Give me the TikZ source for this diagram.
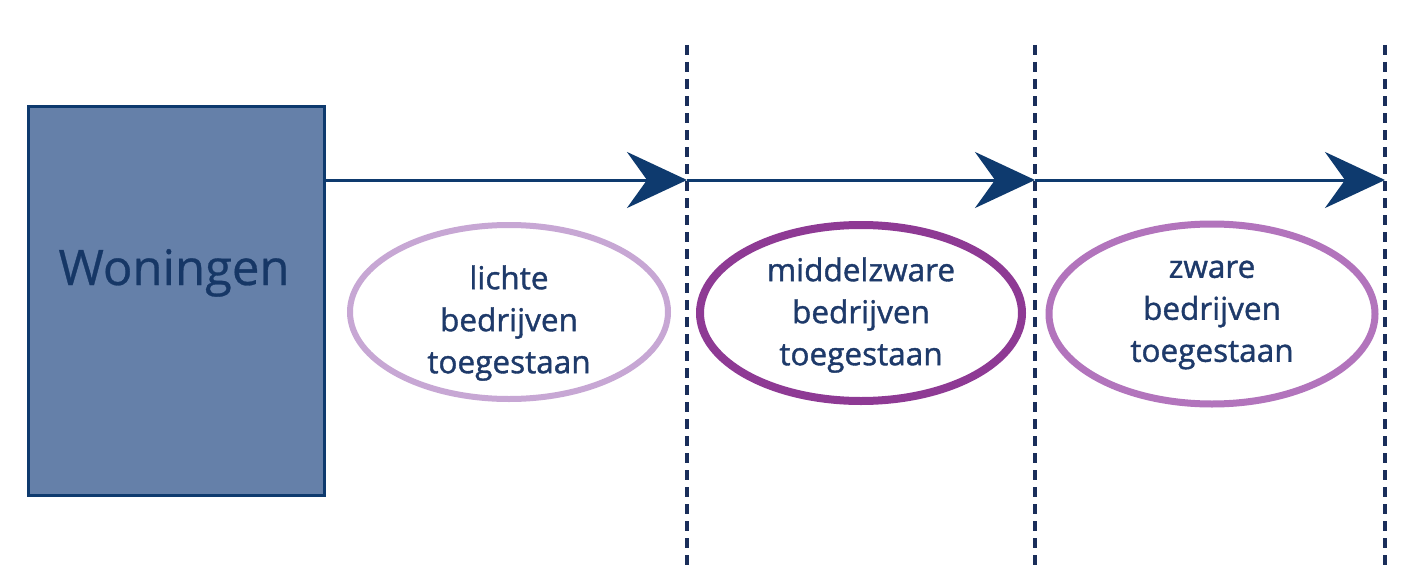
\documentclass[tikz,border=0pt]{standalone}
\usepackage{fontspec}
\setmainfont{Open Sans}
\newfontfamily\heavier[FakeBold=1.2]{Open Sans}
\newfontfamily\medium[FakeBold=0.6]{Open Sans}
\usetikzlibrary{arrows.meta,shapes.geometric,calc}
\definecolor{navy}{HTML}{0E3A6E}
\definecolor{boxfill}{HTML}{6580A9}
\definecolor{txt}{HTML}{1E3A6A}
\definecolor{wtxt}{HTML}{163766}
\definecolor{dashc}{HTML}{1A2E5A}
\definecolor{lightp}{HTML}{C7A7D4}
\definecolor{darkp}{HTML}{8E3A94}
\definecolor{midp}{HTML}{B274BC}
\begin{document}
\begin{tikzpicture}[x=1pt,y=-1pt,
  wbox/.style={draw=navy,line width=3pt,fill=boxfill,minimum width=296pt,minimum height=389pt,inner sep=0pt},
  flow/.style={draw=navy,line width=3pt,-{Stealth[length=60pt,width=56pt,inset=20pt]}},
  border/.style={draw=dashc,line width=3.5pt,dash pattern=on 10pt off 7pt},
  zone/.style={ellipse,minimum width=#1,inner sep=0pt,text=txt},
  ztext/.style={font=\heavier\fontsize{31.5}{42}\selectfont,text=txt,align=center},
]
\useasboundingbox (0,0) rectangle (1403,578);
\fill[white] (0,0) rectangle (1403,578);
\node[wbox] (box) at (176.5,301) {};
\node[text=wtxt,font=\medium\fontsize{49}{56}\selectfont,anchor=base] (wlabel) at (174,285) {Woningen};
\coordinate (t1) at (687,180);
\coordinate (t2) at (1035,180);
\coordinate (t3) at (1385,180);
\foreach \i in {1,2,3} {
  \coordinate (d\i top) at ($(t\i)+(0,-135)$);
  \coordinate (d\i bot) at ($(t\i)+(0,385)$);
  \draw[border] (d\i top) -- (d\i bot);
}
\draw[flow] (t1 -| box.east) -- (t1);
\draw[flow] (t1) -- (t2);
\draw[flow] (t2) -- (t3);
\node[zone=318pt,minimum height=174pt,draw=lightp,line width=6pt] (e1) at (509,312) {};
\node[zone=322pt,minimum height=176pt,draw=darkp,line width=8pt] (e2) at (861,313) {};
\node[zone=326pt,minimum height=180pt,draw=midp,line width=7pt] (e3) at (1212,314) {};
\node[ztext] (l1) at ($(e1.center)+(0,11)$) {lichte\\bedrijven\\toegestaan};
\node[ztext] (l2) at ($(e2.center)+(0,2)$) {middelzware\\bedrijven\\toegestaan};
\node[ztext] (l3) at ($(e3.center)+(0,1)$) {zware\\bedrijven\\toegestaan};
\end{tikzpicture}
\end{document}
